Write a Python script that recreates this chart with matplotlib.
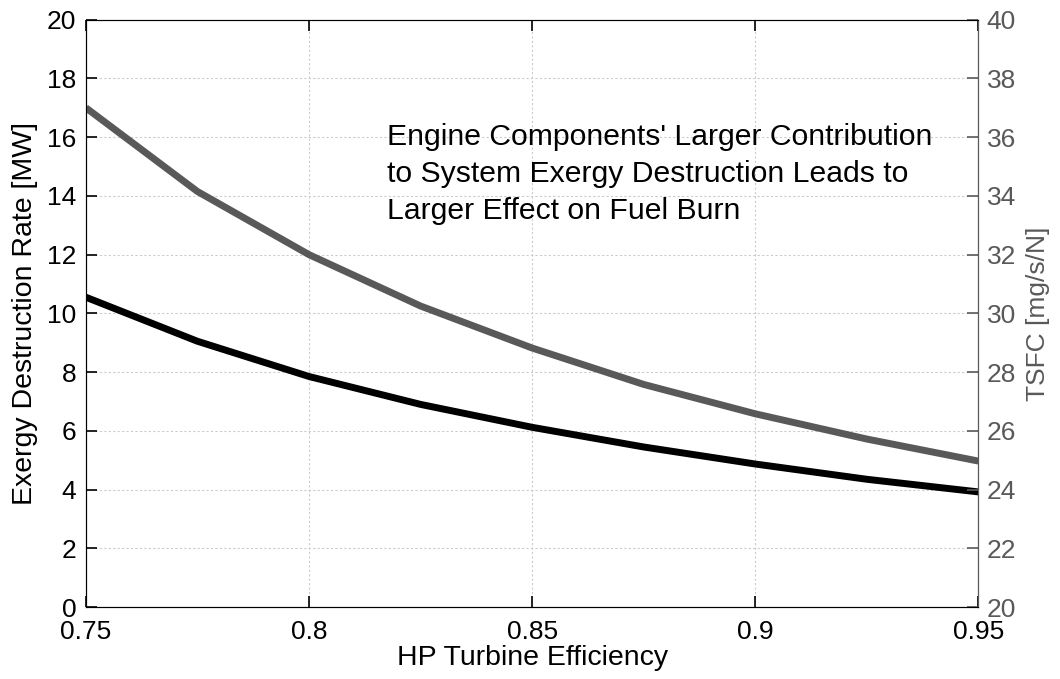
import matplotlib.pyplot as plt

plt.rcParams['font.family'] = ['Liberation Sans', 'DejaVu Sans']

# HP turbine efficiency sweep
efficiency = [0.75, 0.775, 0.8, 0.825, 0.85, 0.875, 0.9, 0.925, 0.95]
exergy_destruction = [10.55, 9.05, 7.85, 6.9, 6.12, 5.45, 4.87, 4.35, 3.92]
tsfc = [37.0, 34.15, 32.0, 30.25, 28.82, 27.58, 26.58, 25.72, 24.97]

x_ticks = [0.75, 0.8, 0.85, 0.9, 0.95]
x_ticklabels = ['0.75', '0.8', '0.85', '0.9', '0.95']

gray = '#595959'

fig = plt.figure(figsize=(10.6, 6.79), dpi=100)
ax = fig.add_axes([0.081, 0.106, 0.842, 0.865])

ax.plot(efficiency, exergy_destruction, color='black', lw=5, solid_capstyle='butt')
ax.set_xlim(0.75, 0.95)
ax.set_ylim(0, 20)
ax.set_xticks(x_ticks)
ax.set_xticklabels(x_ticklabels)
ax.set_yticks(range(0, 21, 2))
ax.tick_params(axis='both', direction='in', length=8, labelsize=19, width=1.2)
ax.tick_params(axis='x', top=True, pad=9)
ax.tick_params(axis='y', pad=7)
ax.grid(True, linestyle=(0, (2, 2)), color='#cccccc', linewidth=0.8)
ax.set_xlabel('HP Turbine Efficiency', fontsize=20.5, labelpad=1)
ax.set_ylabel('Exergy Destruction Rate [MW]', fontsize=20.5, labelpad=6)
for s in ax.spines.values():
    s.set_color('#262626')

ax2 = ax.twinx()
ax2.plot(efficiency, tsfc, color=gray, lw=5, solid_capstyle='butt')
ax2.set_ylim(20, 40)
ax2.set_yticks(range(20, 41, 2))
ax2.tick_params(axis='y', direction='in', length=8, labelsize=19, colors=gray,
                width=1.2, pad=6)
ax2.spines['right'].set_color(gray)
ax2.set_ylabel('TSFC [mg/s/N]', fontsize=19, color=gray, labelpad=7)

ax.text(0.8175, 14.75, "Engine Components' Larger Contribution\n"
        "to System Exergy Destruction Leads to\nLarger Effect on Fuel Burn",
        fontsize=21.7, va='center', ha='left', linespacing=1.4)

fig.savefig('out.png', dpi=100)
